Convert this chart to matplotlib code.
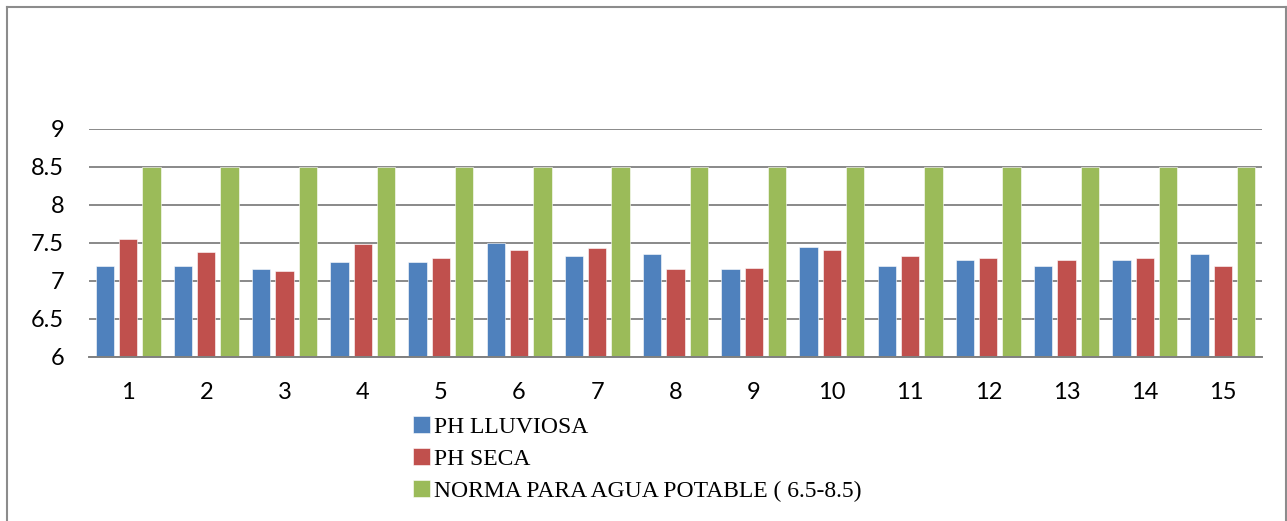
import matplotlib
matplotlib.use("Agg")
import matplotlib.pyplot as plt
import numpy as np
from matplotlib.lines import Line2D

categories = [str(i) for i in range(1, 16)]
ph_lluviosa = [7.2, 7.2, 7.15, 7.25, 7.25, 7.5, 7.32, 7.35, 7.15, 7.45, 7.2, 7.27, 7.2, 7.27, 7.35]
ph_seca = [7.55, 7.38, 7.13, 7.48, 7.3, 7.4, 7.43, 7.15, 7.17, 7.4, 7.32, 7.3, 7.27, 7.3, 7.2]
norma = [8.5] * 15
labels = ["PH LLUVIOSA", "PH SECA", "NORMA PARA AGUA POTABLE ( 6.5-8.5)"]
colors = ["#4F81BD", "#C0504D", "#9BBB59"]
yticks = [6, 6.5, 7, 7.5, 8, 8.5, 9]
ytick_labels = ["6", "6.5", "7", "7.5", "8", "8.5", "9"]

W, H = 1287, 521
fig = plt.figure(figsize=(W / 100, H / 100), dpi=100)
ax = fig.add_axes([89 / W, 1 - 356.7 / H, (1262 - 89) / W, (356.7 - 128.7) / H])

x = np.arange(len(categories))
off = 0.298
bw = 0.234
bars = []
for i, (vals, c) in enumerate(zip([ph_lluviosa, ph_seca, norma], colors)):
    b = ax.bar(x + (i - 1) * off, np.array(vals) - 6, bottom=6, width=bw, color=c,
               edgecolor="white", linewidth=0.4, zorder=3, label=labels[i])
    bars.append(b)

ax.set_xlim(-0.5, len(categories) - 0.5)
ax.set_ylim(6, 9)
ax.set_yticks(yticks)
ax.set_yticklabels(ytick_labels)
ax.set_xticks(x)
ax.set_xticklabels(categories)
ax.yaxis.grid(True, color="#808080", linewidth=1.3, zorder=0)
ax.set_axisbelow(True)
for s in ["left", "right", "top"]:
    ax.spines[s].set_visible(False)
ax.spines["bottom"].set_color("#808080")
ax.spines["bottom"].set_linewidth(1.4)
ax.spines["bottom"].set_zorder(4)
ax.tick_params(axis="both", length=0, labelsize=17, pad=18)
for t in ax.get_xticklabels() + ax.get_yticklabels():
    t.set_fontfamily("Lato")

leg = fig.legend(handles=bars, labels=labels, loc="upper left",
                 bbox_to_anchor=(413 / W, 1 - 416 / H), frameon=False,
                 prop={"family": "Liberation Serif", "size": 17},
                 handlelength=0.7, handleheight=0.7, handletextpad=0.17,
                 labelspacing=0.45, borderaxespad=0, borderpad=0)

# outer border
bc = "#8C8C8C"
fig.add_artist(Line2D([7 / W, 7 / W], [0, 1 - 7 / H], transform=fig.transFigure, color=bc, lw=1.5))
fig.add_artist(Line2D([7 / W, 1286 / W], [1 - 7 / H, 1 - 7 / H], transform=fig.transFigure, color=bc, lw=1.5))
fig.add_artist(Line2D([1286 / W, 1286 / W], [0, 1 - 7 / H], transform=fig.transFigure, color=bc, lw=1.5))

fig.savefig("out.png", dpi=100)
